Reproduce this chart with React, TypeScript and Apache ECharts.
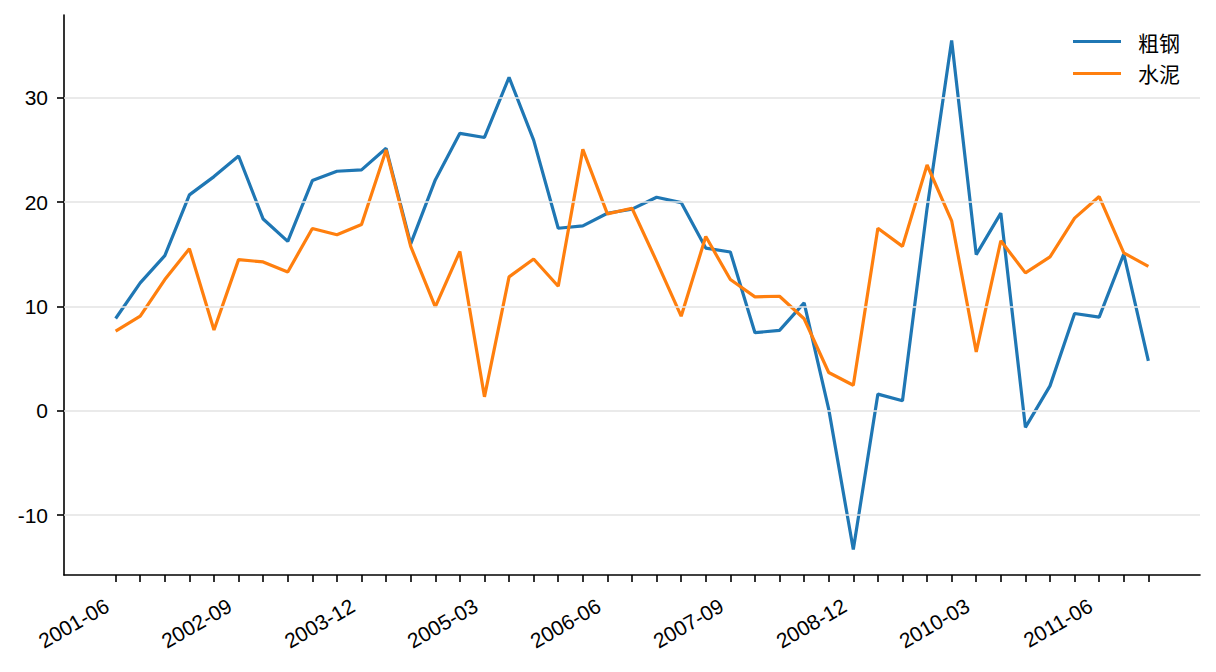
import React, { useEffect, useRef } from "react";
import * as echarts from "echarts";

const quarters: string[] = [
  "2001-06", "2001-09", "2001-12", "2002-03", "2002-06", "2002-09", "2002-12", "2003-03", "2003-06", "2003-09",
  "2003-12", "2004-03", "2004-06", "2004-09", "2004-12", "2005-03", "2005-06", "2005-09", "2005-12", "2006-03",
  "2006-06", "2006-09", "2006-12", "2007-03", "2007-06", "2007-09", "2007-12", "2008-03", "2008-06", "2008-09",
  "2008-12", "2009-03", "2009-06", "2009-09", "2009-12", "2010-03", "2010-06", "2010-09", "2010-12", "2011-03",
  "2011-06", "2011-09", "2011-12",
];

const steel: number[] = [
  8.85, 12.26, 14.87, 20.7, 22.45, 24.42, 18.38, 16.24, 22.07, 22.96,
  23.09, 25.16, 16.0, 22.13, 26.6, 26.2, 31.97, 25.95, 17.5, 17.73,
  18.94, 19.33, 20.47, 19.96, 15.6, 15.22, 7.49, 7.71, 10.35, 0.16,
  -13.3, 1.6, 0.96, 19.4, 35.5, 14.97, 18.95, -1.59, 2.39, 9.33,
  8.98, 15.03, 4.78,
];

const cement: number[] = [
  7.64, 9.07, 12.58, 15.54, 7.74, 14.49, 14.27, 13.31, 17.48, 16.88,
  17.86, 25.0, 15.76, 9.97, 15.28, 1.34, 12.84, 14.55, 11.94, 25.06,
  18.88, 19.42, 14.33, 9.07, 16.7, 12.58, 10.92, 10.98, 8.82, 3.67,
  2.45, 17.5, 15.76, 23.56, 18.21, 5.64, 16.3, 13.22, 14.75, 18.47,
  20.54, 15.13, 13.85,
];

const yTicks: number[] = [-10, 0, 10, 20, 30];
const seriesNames: string[] = ["粗钢", "水泥"];
const colors: string[] = ["#1f77b4", "#ff7f0e"];

const FONT = "'Liberation Sans', Arial, 'Noto Sans CJK SC', sans-serif";
const CJK_FONT = "'Noto Sans CJK SC', 'Liberation Sans', sans-serif";

export default function App() {
  const ref = useRef<HTMLDivElement>(null);

  useEffect(() => {
    if (!ref.current) return;
    const chart = echarts.init(ref.current, undefined, { renderer: "svg" });

    const all = steel.concat(cement);
    const dMin = Math.min(...all);
    const dMax = Math.max(...all);
    const pad = (dMax - dMin) * 0.05;
    const n = quarters.length;
    const xPad = (n - 1) * 0.05;

    const xTickIdx = quarters.map((_, i) => i);
    const xLabelIdx = xTickIdx.filter((i) => i % 5 === 0);

    chart.setOption({
      animation: false,
      backgroundColor: "#ffffff",
      textStyle: { fontFamily: FONT },
      grid: { left: 64, right: 16, top: 15, bottom: 97, containLabel: false },
      legend: {
        data: seriesNames,
        orient: "vertical",
        right: 31,
        top: 26,
        icon: "rect",
        itemWidth: 48,
        itemHeight: 3,
        itemGap: 11,
        textStyle: { fontSize: 21, color: "#000", fontFamily: CJK_FONT, padding: [0, 0, 0, 12] },
      },
      xAxis: {
        type: "value",
        min: -xPad,
        max: n - 1 + xPad,
        axisLine: { show: true, onZero: false, lineStyle: { color: "#000", width: 1.6 } },
        axisTick: {
          show: true,
          customValues: xTickIdx,
          length: 7,
          inside: false,
          lineStyle: { color: "#000", width: 1.6 },
        },
        axisLabel: {
          customValues: xLabelIdx,
          rotate: 30,
          margin: 24,
          padding: [0, 10, 0, 0],
          fontSize: 21,
          color: "#000",
          fontFamily: FONT,
          formatter: (v: number) => quarters[Math.round(v)] ?? "",
        },
        splitLine: { show: false },
      },
      yAxis: {
        type: "value",
        min: dMin - pad,
        max: dMax + pad,
        axisLine: { show: true, onZero: false, lineStyle: { color: "#000", width: 1.6 } },
        axisTick: {
          show: true,
          customValues: yTicks,
          length: 7,
          lineStyle: { color: "#000", width: 1.6 },
        },
        axisLabel: {
          customValues: yTicks,
          margin: 16,
          fontSize: 21,
          color: "#000",
          fontFamily: FONT,
        },
        splitLine: { show: false },
      },
      series: [
        {
          name: "grid",
          type: "line",
          data: [],
          z: 1,
          silent: true,
          markLine: {
            silent: true,
            symbol: ["none", "none"],
            label: { show: false },
            lineStyle: { color: "#e3e3e3", width: 1.5, type: "solid" },
            data: yTicks.map((v) => ({ yAxis: v })),
          },
        },
        {
          name: seriesNames[0],
          type: "line",
          data: steel.map((v, i) => [i, v]),
          symbol: "none",
          showSymbol: false,
          z: 3,
          lineStyle: { color: colors[0], width: 3.2 },
          itemStyle: { color: colors[0] },
        },
        {
          name: seriesNames[1],
          type: "line",
          data: cement.map((v, i) => [i, v]),
          symbol: "none",
          showSymbol: false,
          z: 4,
          lineStyle: { color: colors[1], width: 3.2 },
          itemStyle: { color: colors[1] },
        },
      ],
    });

    return () => chart.dispose();
  }, []);

  return (
    <div
      ref={ref}
      style={{ position: "fixed", left: 0, top: 0, width: 1216, height: 672, background: "#fff" }}
    />
  );
}
